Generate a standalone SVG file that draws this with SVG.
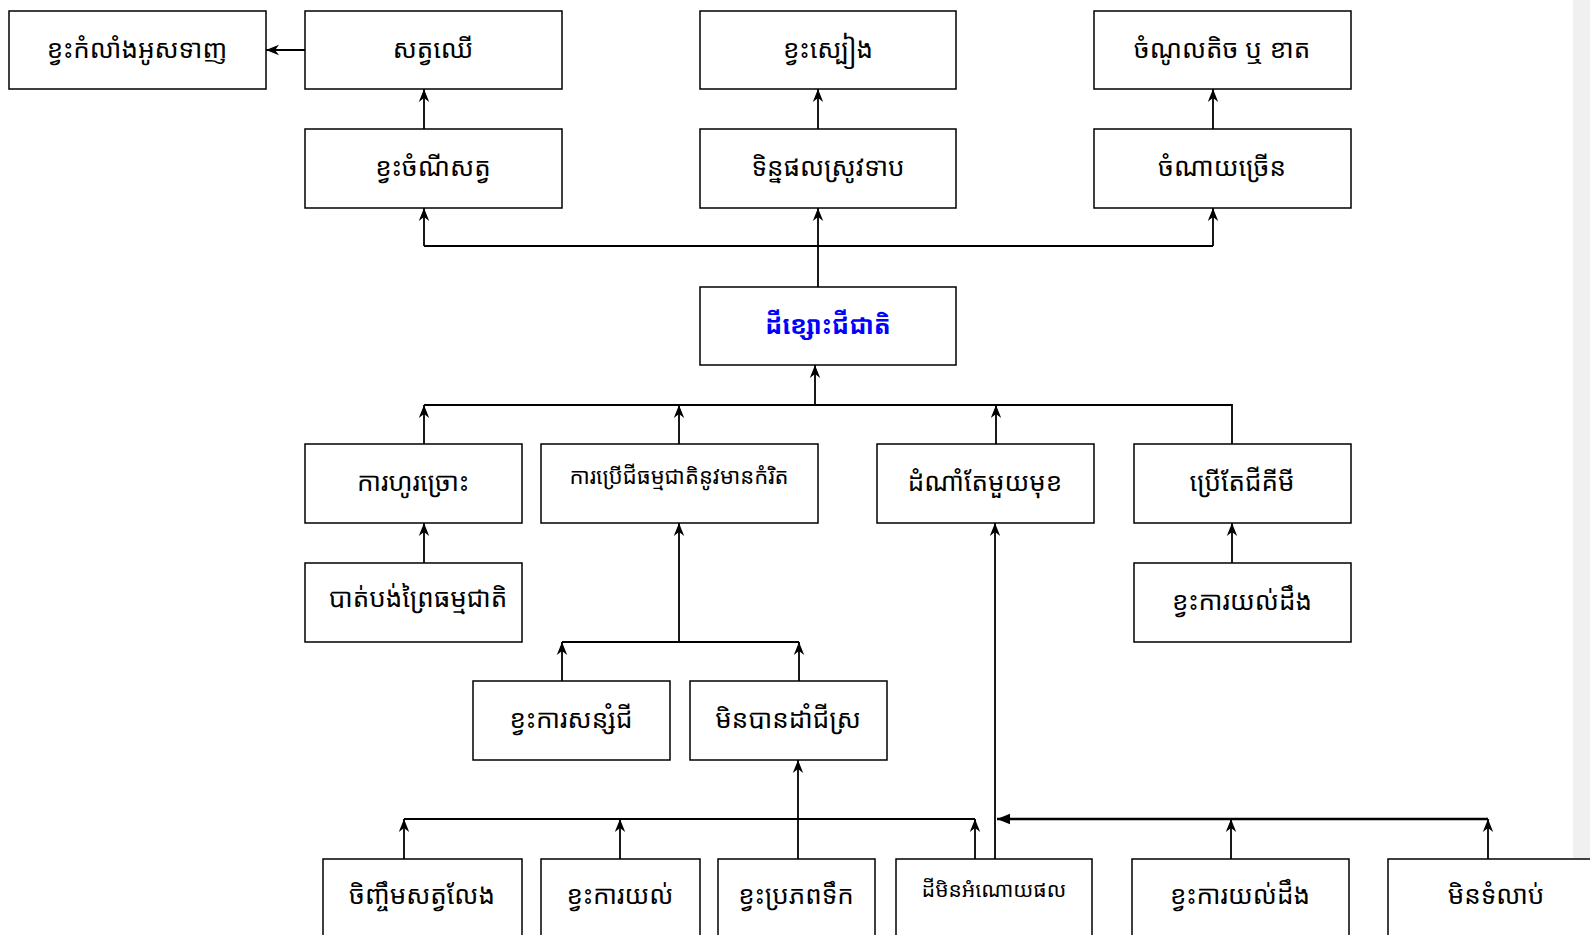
<svg xmlns="http://www.w3.org/2000/svg" width="1590" height="935" viewBox="0 0 1590 935">
<style>
.box{fill:#fff;stroke:#000;stroke-width:1.5}
.t{font-family:"Noto Sans Khmer","Khmer OS","Noto Sans","DejaVu Sans",sans-serif;font-size:26px;fill:#000;text-anchor:middle;dominant-baseline:central}
.s{font-size:22px}
.s2{font-size:21px}
.main{fill:#0000ff;font-weight:bold;font-size:25px}
.c{fill:none;stroke:#000;stroke-width:1.8}
.a{marker-end:url(#arr)}
</style>
<defs>
<marker id="arr" viewBox="0 0 10 10" refX="10" refY="5" markerWidth="13" markerHeight="13" markerUnits="userSpaceOnUse" orient="auto">
<path d="M0,1 L10,5 L0,9 L3,5 Z" fill="#000"/>
</marker>
<marker id="blk" viewBox="0 0 10 10" refX="10" refY="5" markerWidth="13" markerHeight="13" markerUnits="userSpaceOnUse" orient="auto">
<path d="M0,1 L10,5 L0,9 Z" fill="#000"/>
</marker>
</defs>
<rect x="0" y="0" width="1590" height="935" fill="#fff"/>
<rect x="1573" y="0" width="17" height="858" fill="#f0f0f0"/>
<g id="connectors">
<path class="c a" d="M305,50 H266"/>
<path class="c a" d="M424,129 V89"/>
<path class="c a" d="M818,129 V89"/>
<path class="c a" d="M1213,129 V89"/>
<path class="c a" d="M818,287 V208"/>
<path class="c" d="M424,246 H1213"/>
<path class="c a" d="M424,246 V208"/>
<path class="c a" d="M1213,246 V208"/>
<path class="c" d="M424,405 H1232 V444"/>
<path class="c a" d="M815,405 V365"/>
<path class="c a" d="M424,444 V405"/>
<path class="c a" d="M679,444 V405"/>
<path class="c a" d="M996,444 V405"/>
<path class="c a" d="M424,563 V523"/>
<path class="c a" d="M1232,563 V523"/>
<path class="c" d="M562,642 H799"/>
<path class="c a" d="M562,681 V642"/>
<path class="c a" d="M799,681 V642"/>
<path class="c a" d="M679,642 V523"/>
<path class="c" d="M404,819 H975"/>
<path class="c a" d="M404,859 V819"/>
<path class="c a" d="M620,859 V819"/>
<path class="c a" d="M975,859 V819"/>
<path class="c a" d="M798,859 V760"/>
<path class="c a" d="M995,859 V523"/>
<path class="c" d="M1488,819 H997" style="stroke-width:2.6;marker-end:url(#blk)"/>
<path class="c a" d="M1231,859 V819"/>
<path class="c a" d="M1488,859 V819"/>
</g>
<g id="n1"><rect class="box" x="9" y="11" width="257" height="78"/><text class="t" x="137" y="48">ខ្វះកំលាំងអូសទាញ</text></g>
<g id="n2"><rect class="box" x="305" y="11" width="257" height="78"/><text class="t" x="433" y="48">សត្វឈើ</text></g>
<g id="n3"><rect class="box" x="700" y="11" width="256" height="78"/><text class="t" x="828" y="48">ខ្វះស្បៀង</text></g>
<g id="n4"><rect class="box" x="1094" y="11" width="257" height="78"/><text class="t" x="1222" y="48">ចំណូលតិច ឬ ខាត</text></g>
<g id="n5"><rect class="box" x="305" y="129" width="257" height="79"/><text class="t" x="433" y="166">ខ្វះចំណីសត្វ</text></g>
<g id="n6"><rect class="box" x="700" y="129" width="256" height="79"/><text class="t" x="828" y="166">ទិន្នផលស្រូវទាប</text></g>
<g id="n7"><rect class="box" x="1094" y="129" width="257" height="79"/><text class="t" x="1222" y="166">ចំណាយច្រើន</text></g>
<g id="n8"><rect class="box" x="700" y="287" width="256" height="78"/><text class="t main" x="828" y="324">ដីខ្សោះជីជាតិ</text></g>
<g id="n9"><rect class="box" x="305" y="444" width="217" height="79"/><text class="t" x="413" y="481">ការហូរច្រោះ</text></g>
<g id="n10"><rect class="box" x="541" y="444" width="277" height="79"/><text class="t s" x="679" y="475">ការប្រើជីធម្មជាតិនូវមានកំរិត</text></g>
<g id="n11"><rect class="box" x="877" y="444" width="217" height="79"/><text class="t" x="985" y="481">ដំណាំតែមួយមុខ</text></g>
<g id="n12"><rect class="box" x="1134" y="444" width="217" height="79"/><text class="t" x="1242" y="481">ប្រើតែជីគីមី</text></g>
<g id="n13"><rect class="box" x="305" y="563" width="217" height="79"/><text class="t" x="418" y="597">បាត់បង់ព្រៃធម្មជាតិ</text></g>
<g id="n14"><rect class="box" x="1134" y="563" width="217" height="79"/><text class="t" x="1242" y="600">ខ្វះការយល់ដឹង</text></g>
<g id="n15"><rect class="box" x="473" y="681" width="197" height="79"/><text class="t" x="571" y="718">ខ្វះការសន្សំជី</text></g>
<g id="n16"><rect class="box" x="690" y="681" width="197" height="79"/><text class="t" x="788" y="718">មិនបានដាំជីស្រ</text></g>
<g id="n17"><rect class="box" x="323" y="859" width="199" height="80"/><text class="t" x="422" y="894">ចិញ្ចឹមសត្វលែង</text></g>
<g id="n18"><rect class="box" x="541" y="859" width="159" height="80"/><text class="t" x="620" y="894">ខ្វះការយល់</text></g>
<g id="n19"><rect class="box" x="718" y="859" width="157" height="80"/><text class="t" x="796" y="894">ខ្វះប្រភពទឹក</text></g>
<g id="n20"><rect class="box" x="896" y="859" width="196" height="80"/><text class="t s2" x="994" y="889">ដីមិនអំណោយផល</text></g>
<g id="n21"><rect class="box" x="1132" y="859" width="217" height="80"/><text class="t" x="1240" y="894">ខ្វះការយល់ដឹង</text></g>
<g id="n22"><rect class="box" x="1388" y="859" width="217" height="80"/><text class="t" x="1496" y="894">មិនទំលាប់</text></g>
</svg>
